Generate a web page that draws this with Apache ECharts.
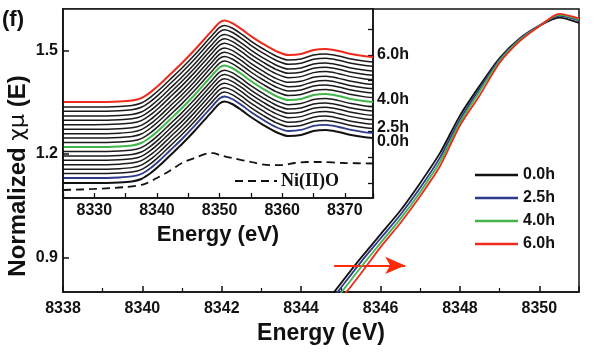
<!DOCTYPE html>
<html>
<head>
<meta charset="utf-8">
<script src="https://cdn.jsdelivr.net/npm/echarts@6/dist/echarts.min.js"></script>
<style>html,body{margin:0;padding:0;background:#fff;}#c{width:600px;height:355px;}</style>
</head>
<body>
<div id="c"></div>
<script>
// ---------- main plot data (edge region) ----------
const mainEnergy = [8344.6, 8345.0, 8345.5, 8346.0, 8346.5, 8347.0, 8347.5, 8348.0, 8348.5, 8349.0, 8349.5, 8350.0, 8350.5, 8351.0];
const mu_0h  = [0.765, 0.825, 0.898, 0.967, 1.036, 1.116, 1.203, 1.311, 1.398, 1.478, 1.534, 1.571, 1.595, 1.580];
const mu_25h = [0.752, 0.812, 0.886, 0.955, 1.024, 1.102, 1.190, 1.300, 1.390, 1.474, 1.532, 1.572, 1.600, 1.587];
const mu_40h = [0.740, 0.797, 0.871, 0.942, 1.012, 1.090, 1.178, 1.291, 1.382, 1.470, 1.530, 1.571, 1.603, 1.590];
const mu_60h = [0.730, 0.780, 0.853, 0.930, 1.000, 1.078, 1.165, 1.282, 1.370, 1.464, 1.526, 1.570, 1.606, 1.593];
const mainNames = ['0.0h', '2.5h', '4.0h', '6.0h'];
const mainXTicks = [8338, 8340, 8342, 8344, 8346, 8348, 8350];
const mainYTicks = [0.9, 1.2, 1.5];

// ---------- inset data (full XANES, stacked scans) ----------
const insetEnergy = [8325, 8330, 8334, 8336, 8337.5, 8339, 8340.5, 8342, 8344, 8346, 8348, 8349, 8350, 8350.8, 8352, 8353.5, 8355, 8357, 8359, 8361, 8363, 8365, 8367, 8369, 8371, 8373, 8374.5];
const insetSpectrum = [0, 0, 0.005, 0.015, 0.039, 0.097, 0.175, 0.263, 0.380, 0.507, 0.643, 0.711, 0.775, 0.794, 0.770, 0.711, 0.643, 0.565, 0.497, 0.458, 0.468, 0.507, 0.517, 0.497, 0.468, 0.448, 0.439];
// vertical stacking offset of each scan (bottom 0.0h ... top 6.0h)
const scanOffsets = [0, 0.049, 0.092, 0.135, 0.179, 0.221, 0.263, 0.306, 0.351, 0.394, 0.439, 0.481, 0.523, 0.569, 0.611, 0.653, 0.699, 0.741, 0.789];
const nioEnergy = [8325, 8330, 8335, 8338, 8340, 8342, 8344, 8346, 8348, 8349, 8350, 8352, 8355, 8358, 8360, 8362, 8364, 8366, 8370, 8374.5];
const nioMu = [-0.068, -0.058, -0.039, -0.010, 0.049, 0.117, 0.195, 0.244, 0.288, 0.292, 0.273, 0.244, 0.205, 0.175, 0.175, 0.195, 0.205, 0.205, 0.195, 0.190];
const insetXTicks = [8330, 8340, 8350, 8360, 8370];
const insetYTicks = [0, 0.25, 0.5, 0.75, 1.0, 1.25, 1.5];

const C_BLACK = '#111111', C_BLUE = '#2e3a8c', C_GREEN = '#3fb54a', C_RED = '#ee2a1c';
const mainColors = [C_BLACK, C_BLUE, C_GREEN, C_RED];
const FONT = "'Liberation Sans', Arial, sans-serif";

const zip = (xs, ys) => xs.map((x, i) => [x, ys[i]]);

const series = [];
[mu_0h, mu_25h, mu_40h, mu_60h].forEach((ys, i) => {
  const s = {
    name: mainNames[i], type: 'line', xAxisIndex: 0, yAxisIndex: 0,
    data: zip(mainEnergy, ys), showSymbol: false, smooth: 0.25,
    lineStyle: { color: mainColors[i], width: 1.8 }, itemStyle: { color: mainColors[i] },
    z: 3 + i
  };
  if (i === 3) {
    s.markLine = {
      silent: true, symbol: ['none', 'arrow'], symbolSize: [13, 20],
      label: { show: false },
      lineStyle: { color: '#ff2a0a', width: 2, type: 'solid' },
      itemStyle: { color: '#ff2a0a' },
      data: [[{ coord: [8344.83, 0.877] }, { coord: [8346.62, 0.877] }]]
    };
  }
  series.push(s);
});

scanOffsets.forEach((off, k) => {
  let col = '#1a1a1a', w = 1.5;
  if (k === 0) { col = C_BLACK; w = 2; }
  if (k === 1) { col = C_BLUE; w = 1.8; }
  if (k === 8) { col = C_GREEN; w = 2; }
  if (k === scanOffsets.length - 1) { col = C_RED; w = 2; }
  series.push({
    name: 'scan' + k, type: 'line', xAxisIndex: 1, yAxisIndex: 1,
    data: insetEnergy.map((x, i) => [x, insetSpectrum[i] + off]),
    showSymbol: false, smooth: 0.3,
    lineStyle: { color: col, width: w }, z: (k === 1 || k === 8 || k === scanOffsets.length - 1) ? 4 : 3
  });
});
series.push({
  name: 'Ni(II)O', type: 'line', xAxisIndex: 1, yAxisIndex: 1,
  data: zip(nioEnergy, nioMu), showSymbol: false, smooth: 0.3,
  lineStyle: { color: C_BLACK, width: 1.8, type: [8, 5] }
});

const axisCommon = {
  type: 'value',
  axisLine: { show: true, onZero: false, lineStyle: { color: '#111', width: 1.5 } },
  splitLine: { show: false },
  axisLabel: { color: '#111', fontSize: 16, fontWeight: 'bold', fontFamily: FONT, formatter: v => String(v) },
  nameTextStyle: { color: '#111', fontWeight: 'bold', fontFamily: FONT }
};

const option = {
  animation: false,
  backgroundColor: '#fff',
  grid: [
    { left: 63, top: 9, width: 516, height: 283, show: true, borderColor: '#111', borderWidth: 1.5, backgroundColor: 'transparent' },
    { left: 63, top: 9, width: 310, height: 189, show: true, borderColor: '#111', borderWidth: 1.5, backgroundColor: '#fff' }
  ],
  xAxis: [
    Object.assign({}, axisCommon, {
      gridIndex: 0, min: 8338, max: 8351, interval: 2,
      axisTick: { inside: true, length: 6, lineStyle: { color: '#111', width: 1.5 } },
      minorTick: { show: true, splitNumber: 2, length: 4, lineStyle: { color: '#111', width: 1.2 } },
      axisLabel: Object.assign({}, axisCommon.axisLabel, { margin: 9, customValues: mainXTicks }),
      name: 'Energy (eV)', nameLocation: 'middle', nameGap: 30,
      nameTextStyle: { color: '#111', fontWeight: 'bold', fontFamily: FONT, fontSize: 23 }
    }),
    Object.assign({}, axisCommon, {
      gridIndex: 1, min: 8325, max: 8374.5, interval: 5,
      axisTick: { inside: true, length: 5, lineStyle: { color: '#111', width: 1.3 } },
      axisLabel: Object.assign({}, axisCommon.axisLabel, { margin: 5, customValues: insetXTicks }),
      name: 'Energy (eV)', nameLocation: 'middle', nameGap: 24,
      nameTextStyle: { color: '#111', fontWeight: 'bold', fontFamily: FONT, fontSize: 22 }
    })
  ],
  yAxis: [
    Object.assign({}, axisCommon, {
      gridIndex: 0, min: 0.8, max: 1.62,
      axisTick: { inside: true, length: 6, customValues: mainYTicks, lineStyle: { color: '#111', width: 1.5 } },
      axisLabel: Object.assign({}, axisCommon.axisLabel, { margin: 5, customValues: mainYTicks, formatter: v => v.toFixed(1) }),
      z: 10
    }),
    Object.assign({}, axisCommon, {
      gridIndex: 1, position: 'right', min: -0.146, max: 1.696,
      axisTick: { inside: true, length: 5, customValues: insetYTicks, lineStyle: { color: '#111', width: 1.3 } },
      axisLabel: { show: false }
    })
  ],
  legend: {
    data: mainNames, left: 470, top: 162, orient: 'vertical',
    icon: 'rect', itemWidth: 43, itemHeight: 2.5, itemGap: 7,
    textStyle: { color: '#111', fontSize: 16, fontWeight: 'bold', fontFamily: FONT }
  },
  graphic: [
    { type: 'text', left: 2, top: 9, style: { text: '(f)', fill: '#111', font: "bold 22px 'Liberation Sans', Arial" } },
    { type: 'text', x: 18, y: 176, rotation: Math.PI / 2,
      style: {
        text: '{a|Normalized }{b|χμ}{a| (E)}', align: 'center', verticalAlign: 'middle',
        rich: {
          a: { fill: '#111', fontSize: 24, fontWeight: 'bold', fontFamily: FONT },
          b: { fill: '#111', fontSize: 22, fontWeight: 'normal', fontFamily: "'DejaVu Sans', sans-serif" }
        }
      }
    },
    { type: 'text', x: 377, y: 55, style: { text: '6.0h', fill: '#111', font: "bold 16px 'Liberation Sans', Arial", verticalAlign: 'middle' } },
    { type: 'text', x: 377, y: 100, style: { text: '4.0h', fill: '#111', font: "bold 16px 'Liberation Sans', Arial", verticalAlign: 'middle' } },
    { type: 'text', x: 377, y: 128, style: { text: '2.5h', fill: '#111', font: "bold 16px 'Liberation Sans', Arial", verticalAlign: 'middle' } },
    { type: 'text', x: 377, y: 142, style: { text: '0.0h', fill: '#111', font: "bold 16px 'Liberation Sans', Arial", verticalAlign: 'middle' } },
    { type: 'line', shape: { x1: 235, y1: 181, x2: 277, y2: 181 }, style: { stroke: '#111', lineWidth: 1.8, lineDash: [8, 5] } },
    { type: 'text', x: 281, y: 181, style: { text: 'Ni(II)O', fill: '#111', font: "bold 18px 'Liberation Serif', 'Times New Roman', serif", verticalAlign: 'middle' } }
  ],
  series: series
};

const chart = echarts.init(document.getElementById('c'), null, { renderer: 'canvas' });
chart.setOption(option);
</script>
</body>
</html>
